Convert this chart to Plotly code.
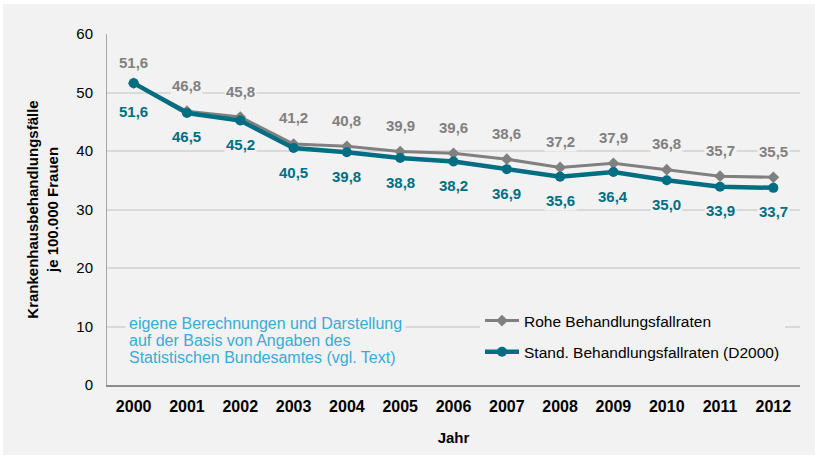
import plotly.graph_objects as go

years = ["2000", "2001", "2002", "2003", "2004", "2005", "2006", "2007", "2008", "2009", "2010", "2011", "2012"]
rohe = [51.6, 46.8, 45.8, 41.2, 40.8, 39.9, 39.6, 38.6, 37.2, 37.9, 36.8, 35.7, 35.5]
stand = [51.6, 46.5, 45.2, 40.5, 39.8, 38.8, 38.2, 36.9, 35.6, 36.4, 35.0, 33.9, 33.7]
note_lines = ["eigene Berechnungen und Darstellung",
              "auf der Basis von Angaben des",
              "Statistischen Bundesamtes (vgl. Text)"]

GRAY = "#808080"
TEAL = "#006e82"
BG = "#f2f2f2"
FONT = "Liberation Sans, Arial, sans-serif"

W, H = 815, 457
ML, MR, MT, MB = 107, 15, 34, 72
PW = W - ML - MR
PH = H - MT - MB

fig = go.Figure()
fig.add_trace(go.Scatter(
    x=years, y=rohe, mode="lines+markers", name="Rohe Behandlungsfallraten",
    line=dict(color=GRAY, width=3), marker=dict(symbol="diamond", size=9, color=GRAY),
    legendgroup="a"))
fig.add_trace(go.Scatter(
    x=years, y=stand, mode="lines+markers", name="Stand. Behandlungsfallraten (D2000)",
    line=dict(color=TEAL, width=4.5), marker=dict(symbol="circle", size=10, color=TEAL),
    legendgroup="b"))

annotations = []
for i, v in enumerate(rohe):
    annotations.append(dict(
        x=i, y=v, xref="x", yref="y", text=f"{v:.1f}".replace(".", ","),
        showarrow=False, yshift=21 if i == 0 else 26, bgcolor=BG, borderpad=1,
        font=dict(family=FONT, size=15, color=GRAY, weight="bold")))
for i, v in enumerate(stand):
    annotations.append(dict(
        x=i, y=v, xref="x", yref="y", text=f"{v:.1f}".replace(".", ","),
        showarrow=False, yshift=-28 if i == 0 else -24, bgcolor=BG, borderpad=1,
        font=dict(family=FONT, size=15, color=TEAL, weight="bold")))

for k, line in enumerate(note_lines):
    annotations.append(dict(
        x=(125 - ML) / PW, y=(H - MB - (323 + 17 * k)) / PH, xref="paper", yref="paper",
        xanchor="left", yanchor="middle", align="left", showarrow=False,
        text=line, bgcolor=BG if k == 0 else "rgba(0,0,0,0)", borderpad=3,
        font=dict(family=FONT, size=16, color="#3aaad6")))

shapes = [dict(
    type="rect", xref="paper", yref="paper", layer="below",
    x0=(3 - ML) / PW, x1=(W - ML) / PW,
    y0=(H - MB - 455) / PH, y1=(H - MB - 4) / PH,
    fillcolor=BG, line=dict(width=0))]

fig.update_layout(
    width=W, height=H,
    margin=dict(l=ML, r=MR, t=MT, b=MB, pad=0, autoexpand=False),
    paper_bgcolor="white", plot_bgcolor=BG,
    font=dict(family=FONT, size=15, color="#000000"),
    annotations=annotations, shapes=shapes,
    showlegend=True,
    legend=dict(
        x=(480 - ML) / PW, y=(H - MB - 304) / PH, xanchor="left", yanchor="top",
        bgcolor=BG, tracegroupgap=8, traceorder="grouped", itemwidth=34,
        font=dict(family=FONT, size=15.5, color="#000000")),
    xaxis=dict(
        type="category", range=[-0.5, len(years) - 0.5], automargin=False,
        showgrid=False, showline=True, linecolor="#8c8c8c", linewidth=1.5,
        ticks="", ticklabelstandoff=6,
        tickfont=dict(family=FONT, size=16, color="#000000", weight="bold"),
        title=dict(text="Jahr", font=dict(family=FONT, size=15, weight="bold"), standoff=19),
        fixedrange=True),
    yaxis=dict(
        range=[0, 60], dtick=10, showgrid=True, gridcolor="#d9d9d9", gridwidth=2,
        zeroline=False, showline=True, linecolor="#a6a6a6", linewidth=1, automargin=False,
        ticks="", ticklabelstandoff=10,
        tickfont=dict(family=FONT, size=15, color="#000000"),
        title=dict(text="Krankenhausbehandlungsfälle<br>je 100.000 Frauen",
                   font=dict(family=FONT, size=15, weight="bold"), standoff=14)),
)

fig.write_html("out.html", config={"displayModeBar": False},
               post_script="document.body.style.margin='0px';")
